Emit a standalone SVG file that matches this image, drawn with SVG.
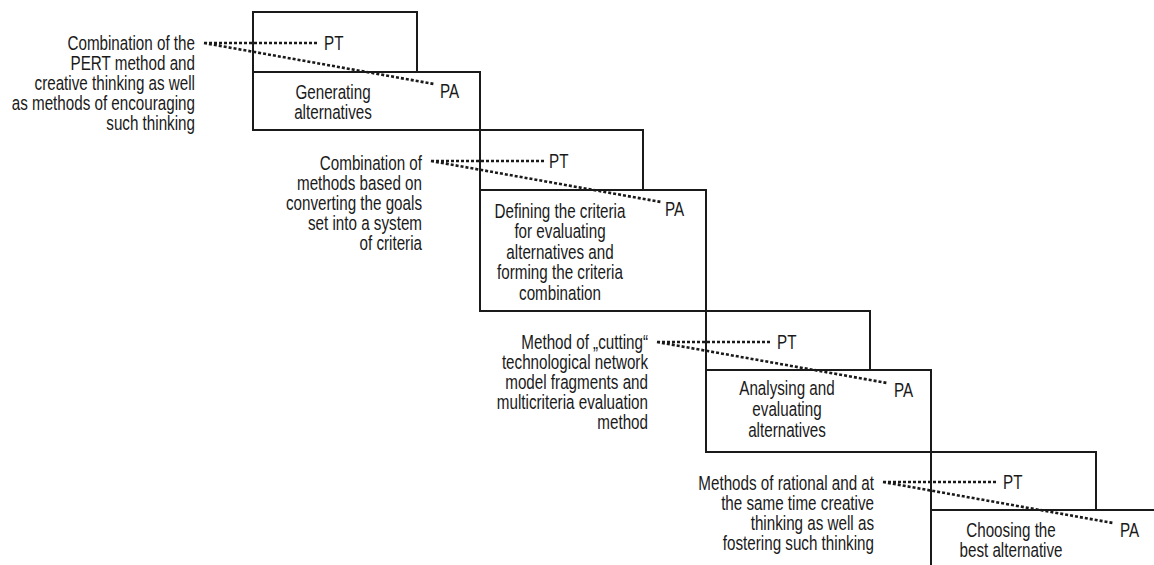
<svg xmlns="http://www.w3.org/2000/svg" width="1154" height="565" viewBox="0 0 1154 565">
<style>
text{font-family:"Liberation Sans","Arial",sans-serif;font-size:19.5px;fill:#1a1a1a}
.l text{text-anchor:end}
.c text{text-anchor:middle}
.box{fill:none;stroke:#1a1a1a;stroke-width:2}
.dot{fill:none;stroke:#1a1a1a;stroke-width:2.6;stroke-dasharray:3 2}
</style>
<rect width="1154" height="565" fill="#fff"/>
<g id="stage1">
<rect class="box" x="253" y="12" width="164" height="60"/>
<rect class="box" x="253" y="72" width="227" height="58"/>
<g class="l" transform="translate(195 0) scale(0.78 1)">
<text x="0" y="50.5">Combination of the</text>
<text x="0" y="70.5">PERT method and</text>
<text x="0" y="90.5">creative thinking as well</text>
<text x="0" y="110.5">as methods of encouraging</text>
<text x="0" y="130.5">such thinking</text>
</g>
<g class="c" transform="translate(333 0) scale(0.78 1)">
<text x="0" y="99">Generating</text>
<text x="0" y="119">alternatives</text>
</g>
<text transform="translate(324 50) scale(0.78 1)">PT</text>
<text transform="translate(440 98) scale(0.78 1)">PA</text>
</g>
<g id="stage2">
<rect class="box" x="480" y="130" width="163" height="60"/>
<rect class="box" x="480" y="190" width="226" height="121"/>
<g class="l" transform="translate(422 0) scale(0.78 1)">
<text x="0" y="170">Combination of</text>
<text x="0" y="190">methods based on</text>
<text x="0" y="210">converting the goals</text>
<text x="0" y="230">set into a system</text>
<text x="0" y="250">of criteria</text>
</g>
<g class="c" transform="translate(560 0) scale(0.78 1)">
<text x="0" y="218">Defining the criteria</text>
<text x="0" y="238.5">for evaluating</text>
<text x="0" y="259">alternatives and</text>
<text x="0" y="279.5">forming the criteria</text>
<text x="0" y="300">combination</text>
</g>
<text transform="translate(549 168) scale(0.78 1)">PT</text>
<text transform="translate(665 216) scale(0.78 1)">PA</text>
</g>
<g id="stage3">
<rect class="box" x="706" y="311" width="164" height="59"/>
<rect class="box" x="706" y="370" width="225" height="82"/>
<g class="l" transform="translate(648 0) scale(0.78 1)">
<text x="0" y="349">Method of „cutting“</text>
<text x="0" y="369">technological network</text>
<text x="0" y="389">model fragments and</text>
<text x="0" y="409">multicriteria evaluation</text>
<text x="0" y="429">method</text>
</g>
<g class="c" transform="translate(787 0) scale(0.78 1)">
<text x="0" y="395">Analysing and</text>
<text x="0" y="416">evaluating</text>
<text x="0" y="437">alternatives</text>
</g>
<text transform="translate(777 349) scale(0.78 1)">PT</text>
<text transform="translate(894 397) scale(0.78 1)">PA</text>
</g>
<g id="stage4">
<rect class="box" x="931" y="452" width="165" height="58"/>
<path class="box" d="M931 566V510H1156"/>
<g class="l" transform="translate(874 0) scale(0.78 1)">
<text x="0" y="490">Methods of rational and at</text>
<text x="0" y="510">the same time creative</text>
<text x="0" y="530">thinking as well as</text>
<text x="0" y="550">fostering such thinking</text>
</g>
<g class="c" transform="translate(1011 0) scale(0.78 1)">
<text x="0" y="537">Choosing the</text>
<text x="0" y="557">best alternative</text>
</g>
<text transform="translate(1003 489) scale(0.78 1)">PT</text>
<text transform="translate(1120 537) scale(0.78 1)">PA</text>
</g>
<g id="connectors">
<path class="dot" d="M204 43H318M204 43L434 84"/>
<path class="dot" d="M431 161H545M431 161L661 202"/>
<path class="dot" d="M657 342H771M657 342L887 383"/>
<path class="dot" d="M883 482H997M883 482L1113 523"/>
</g>
</svg>
